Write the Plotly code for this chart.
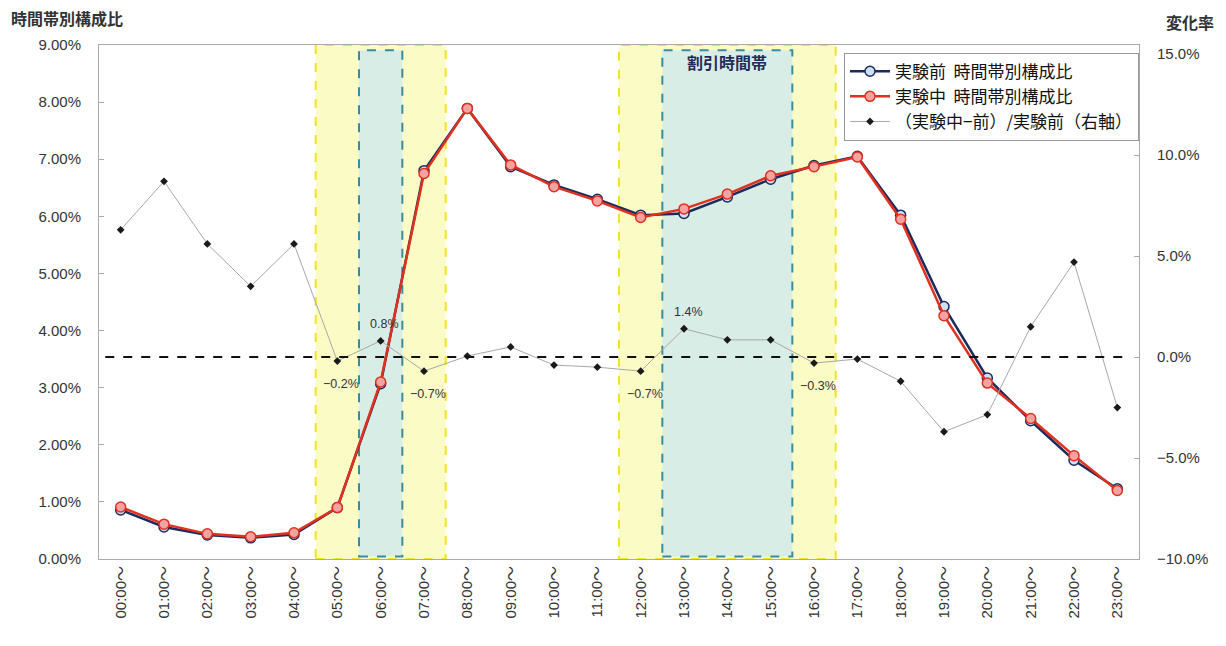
import plotly.graph_objects as go

# 時間帯（00:00～23:00）
hours = [f"{h:02d}:00～" for h in range(24)]

# 時間帯別構成比（%）
share_before = [0.86, 0.56, 0.42, 0.37, 0.43, 0.90, 3.07, 6.80, 7.89, 6.87, 6.55, 6.30,
                6.02, 6.05, 6.34, 6.65, 6.89, 7.05, 6.02, 4.42, 3.17, 2.42, 1.73, 1.23]
share_during = [0.91, 0.61, 0.44, 0.39, 0.46, 0.90, 3.10, 6.75, 7.89, 6.90, 6.52, 6.27,
                5.98, 6.13, 6.39, 6.71, 6.87, 7.04, 5.95, 4.26, 3.08, 2.46, 1.81, 1.20]

# （実験中−前）/実験前（%、右軸）
change_rate = [6.3, 8.7, 5.6, 3.5, 5.6, -0.2, 0.8, -0.7, 0.05, 0.5, -0.4, -0.5,
               -0.7, 1.4, 0.85, 0.85, -0.3, -0.1, -1.2, -3.7, -2.85, 1.5, 4.7, -2.5]

# 軸目盛
left_ticks = [0, 1, 2, 3, 4, 5, 6, 7, 8, 9]
right_ticks = [-10, -5, 0, 5, 10, 15]

# 値ラベルを付ける時間帯と位置（上/下）
labeled_hours = [5, 6, 7, 12, 13, 16]
label_side = ["below", "above", "below", "below", "above", "below"]

# 網掛け帯（時間帯インデックス）
peak_bands = [(5, 7), (12, 16)]
discount_bands = [(6, 6), (13, 15)]

FONT = "Liberation Sans, Arial, Noto Sans CJK JP"
JP = "Noto Sans CJK JP"


def pct(v, digits):
    return f"{v:.{digits}f}%".replace("-", "−")


fig = go.Figure()

fig.add_trace(go.Scatter(
    x=hours, y=share_before, name="実験前  時間帯別構成比",
    mode="lines+markers",
    line=dict(color="#1d2a5c", width=2.5),
    marker=dict(size=10, color="#cfe0f2", line=dict(color="#1d2a5c", width=1.5)),
))
fig.add_trace(go.Scatter(
    x=hours, y=share_during, name="実験中  時間帯別構成比",
    mode="lines+markers",
    line=dict(color="#e0301e", width=2.5),
    marker=dict(size=10, color="#f4a3a3", line=dict(color="#e0301e", width=1.5)),
))
fig.add_trace(go.Scatter(
    x=hours, y=change_rate, name="（実験中−前）/実験前（右軸）",
    mode="lines+markers", yaxis="y2",
    line=dict(color="#a8a8a8", width=1),
    marker=dict(size=6, symbol="diamond", color="#1a1a1a"),
))

shapes = []
for a, b in peak_bands:
    shapes.append(dict(type="rect", xref="x", yref="paper", x0=a - 0.5, x1=b + 0.5,
                       y0=0.0, y1=1.0, layer="below",
                       fillcolor="#fbfbc6",
                       line=dict(color="#f2e51c", width=2, dash="dash")))
for a, b in discount_bands:
    shapes.append(dict(type="rect", xref="x", yref="paper", x0=a - 0.5, x1=b + 0.5,
                       y0=0.005, y1=0.99, layer="below",
                       fillcolor="#d9ede7",
                       line=dict(color="#3a8c9c", width=2, dash="dash")))
# 右軸 0.0% の基準線
shapes.append(dict(type="line", xref="paper", yref="y2", x0=0.006, x1=0.99, y0=0, y1=0,
                   line=dict(color="#111111", width=2, dash="dash")))

annotations = []
for i, side in zip(labeled_hours, label_side):
    v = change_rate[i]
    annotations.append(dict(x=hours[i], y=v, xref="x", yref="y2", text=pct(v, 1),
                            showarrow=False, xshift=4,
                            yshift=-23 if side == "below" else 17,
                            font=dict(family=FONT, size=12.5, color="#333333")))

annotations.append(dict(x=14, y=1, xref="x", yref="paper",
                        text="<b>割引時間帯</b>",
                        showarrow=False, yanchor="middle", yshift=-17,
                        font=dict(family=JP, size=16, color="#1f2d5c")))
annotations.append(dict(x=0, y=1, xref="paper", yref="paper",
                        xanchor="left", yanchor="middle", showarrow=False,
                        xshift=-90, yshift=27, text="<b>時間帯別構成比</b>",
                        font=dict(family=JP, size=16, color="#333333")))
annotations.append(dict(x=1, y=1, xref="paper", yref="paper", xanchor="left",
                        yanchor="middle", showarrow=False, xshift=25, yshift=23,
                        text="<b>変化率</b>",
                        font=dict(family=JP, size=16, color="#333333")))

fig.update_layout(
    width=1226, height=646,
    margin=dict(l=99, r=87, t=45, b=87),
    paper_bgcolor="white", plot_bgcolor="white",
    font=dict(family=FONT, size=14, color="#333333"),
    shapes=shapes, annotations=annotations,
    showlegend=True,
    legend=dict(x=1, y=0.985, xanchor="right", yanchor="top",
                bgcolor="white", bordercolor="#999999", borderwidth=1,
                font=dict(family=JP, size=17, color="#111111"),
                tracegroupgap=0, itemwidth=40),
    xaxis=dict(type="category", range=[-0.5, 23.5], tickangle=-90,
               showline=True, linecolor="#aaaaaa", linewidth=1, mirror=True,
               ticks="", showgrid=False, zeroline=False,
               tickfont=dict(family=FONT, size=15, color="#333333")),
    yaxis=dict(range=[0, 9], tickvals=left_ticks,
               ticktext=[pct(v, 2) for v in left_ticks],
               showline=True, linecolor="#aaaaaa", linewidth=1,
               ticks="inside", ticklen=5, tickcolor="#aaaaaa",
               showgrid=False, zeroline=False, ticklabelstandoff=14,
               tickfont=dict(family=FONT, size=15, color="#333333")),
    yaxis2=dict(range=[-10, 15.45], tickvals=right_ticks,
                ticktext=[pct(v, 1) for v in right_ticks],
                overlaying="y", side="right",
                showline=True, linecolor="#aaaaaa", linewidth=1,
                ticks="inside", ticklen=5, tickcolor="#aaaaaa",
                showgrid=False, zeroline=False, ticklabelstandoff=14,
                tickfont=dict(family=FONT, size=15, color="#333333")),
)

fig.write_html("out.html")
